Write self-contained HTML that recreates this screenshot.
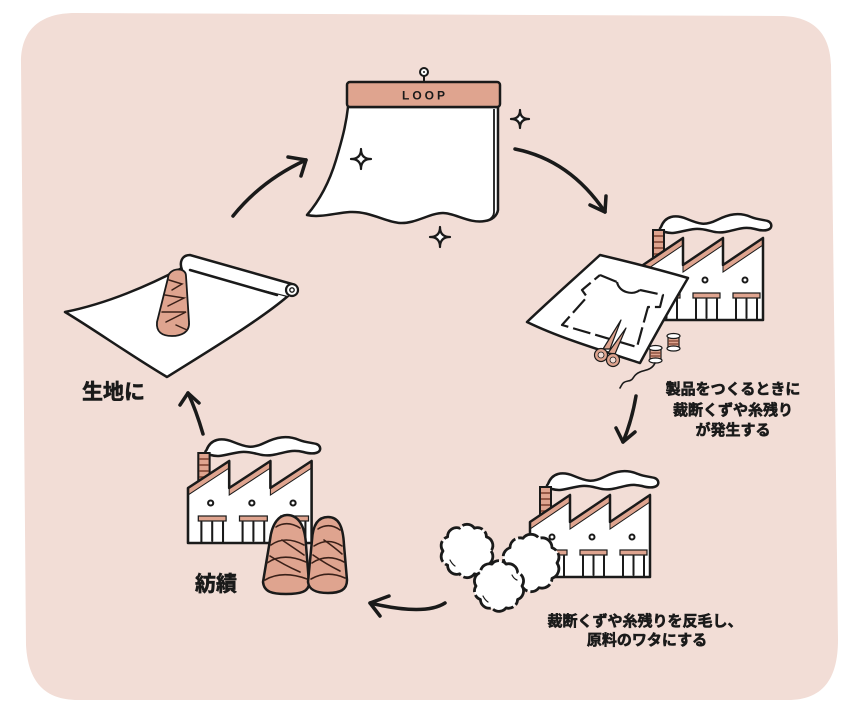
<!DOCTYPE html>
<html>
<head>
<meta charset="utf-8">
<style>
  html,body{margin:0;padding:0;background:#ffffff;}
  body{width:850px;height:711px;overflow:hidden;}
  svg{display:block;}
  .lbl{font-family:"Liberation Sans","Noto Sans CJK JP",sans-serif;font-weight:700;fill:#1a1a1a;stroke:#1a1a1a;stroke-width:0.6;paint-order:stroke;}
</style>
</head>
<body>
<svg width="850" height="711" viewBox="0 0 850 711" xmlns="http://www.w3.org/2000/svg">
  <defs>
    <g id="factory">
      <!-- smoke -->
      <path d="M18,-93 C22,-104 32,-106 44,-101 C56,-96 62,-94 74,-100 C86,-106 96,-108 108,-103 C118,-99 126,-101 128,-96 C130,-90 122,-88 112,-91 C100,-94 94,-90 82,-88 C70,-86 64,-92 52,-91 C40,-90 32,-85 22,-88 C16,-89 16,-91 18,-93 Z" fill="#ffffff" stroke="#1a1a1a" stroke-width="2.5" stroke-linejoin="round"/>
      <!-- chimney -->
      <rect x="10" y="-90" width="11" height="40" fill="#dfa48f" stroke="#1a1a1a" stroke-width="2"/>
      <g stroke="#7a3f2e" stroke-width="1.5">
        <line x1="11" y1="-84" x2="20" y2="-84"/>
        <line x1="11" y1="-78" x2="20" y2="-78"/>
        <line x1="11" y1="-72" x2="20" y2="-72"/>
        <line x1="11" y1="-66" x2="20" y2="-66"/>
      </g>
      <!-- building body -->
      <path d="M0,0 V-55 L40,-82 V-55 L80,-82 V-55 L120,-82 V0 Z" fill="#ffffff"/>
      <!-- roof strips -->
      <g fill="#dfa48f" stroke="#1a1a1a" stroke-width="1">
        <polygon points="0,-55 40,-82 40,-75 0,-48"/>
        <polygon points="40,-55 80,-82 80,-75 40,-48"/>
        <polygon points="80,-55 120,-82 120,-75 80,-48"/>
      </g>
      <path d="M0,0 V-55 L40,-82 V-55 L80,-82 V-55 L120,-82 V0 Z" fill="none" stroke="#1a1a1a" stroke-width="2.5" stroke-linejoin="round"/>
      <!-- windows -->
      <g fill="#ffffff" stroke="#1a1a1a" stroke-width="2">
        <circle cx="22" cy="-40" r="2.5"/>
        <circle cx="62" cy="-40" r="2.5"/>
        <circle cx="102" cy="-40" r="2.5"/>
      </g>
      <!-- doors -->
      <g fill="#dfa48f" stroke="#1a1a1a" stroke-width="1.2">
        <rect x="10" y="-27" width="27" height="5"/>
        <rect x="50" y="-27" width="27" height="5"/>
        <rect x="90" y="-27" width="27" height="5"/>
      </g>
      <g stroke="#1a1a1a" stroke-width="2" stroke-linecap="round">
        <line x1="13" y1="-21" x2="13" y2="0"/><line x1="23.5" y1="-21" x2="23.5" y2="-2"/><line x1="34" y1="-21" x2="34" y2="0"/>
        <line x1="53" y1="-21" x2="53" y2="0"/><line x1="63.5" y1="-21" x2="63.5" y2="-2"/><line x1="74" y1="-21" x2="74" y2="0"/>
        <line x1="93" y1="-21" x2="93" y2="0"/><line x1="103.5" y1="-21" x2="103.5" y2="-2"/><line x1="114" y1="-21" x2="114" y2="0"/>
      </g>
    </g>
  </defs>

  <!-- pink background blob -->
  <path d="M21,62 C21,30 40,13 75,13 L780,16 C815,16 830,35 831,65 L838,640 C838,680 822,700 788,700 L78,700 C45,700 28,682 26,645 Z" fill="#f2ddd6"/>

  <!-- ============ LOOP fabric (top) ============ -->
  <path d="M348,107 L498,107 L498,210 C497,216 492,220 485,221 C470,224 455,213 443,213 C430,213 415,224 400,223 C385,222 370,211 350,212 C335,213 320,218 307,215 C320,200 330,180 336,160 C342,140 346,125 348,107 Z" fill="#ffffff" stroke="#1a1a1a" stroke-width="2.5" stroke-linejoin="round"/>
  <path d="M494,109 L494,212 C494,216 491,219 487,221" fill="none" stroke="#1a1a1a" stroke-width="1.8"/>
  <line x1="424" y1="76" x2="424" y2="83" stroke="#1a1a1a" stroke-width="2"/>
  <circle cx="424" cy="72" r="4" fill="#ffffff" stroke="#1a1a1a" stroke-width="2"/>
  <circle cx="424" cy="72" r="1" fill="#1a1a1a"/>
  <rect x="347" y="82" width="153" height="25" rx="3" fill="#dfa48f" stroke="#1a1a1a" stroke-width="2.5"/>
  <text x="425" y="99.5" text-anchor="middle" font-family="Liberation Sans, sans-serif" font-size="12" font-weight="700" letter-spacing="3" fill="#1a1a1a">LOOP</text>

  <!-- sparkles -->
  <g fill="#ffffff" stroke="#1a1a1a" stroke-width="2.2" stroke-linejoin="round">
    <path d="M361,149 Q361,159 371,159 Q361,159 361,169 Q361,159 351,159 Q361,159 361,149 Z"/>
    <path d="M520,110 Q520,119 529,119 Q520,119 520,128 Q520,119 511,119 Q520,119 520,110 Z"/>
    <path d="M440,227 Q440,237 450,237 Q440,237 440,247 Q440,237 430,237 Q440,237 440,227 Z"/>
  </g>

  <!-- ============ Arrows ============ -->
  <g fill="none" stroke="#1a1a1a" stroke-width="3.5" stroke-linecap="round" stroke-linejoin="round">
    <path d="M233,216 Q262,180 306,160"/>
    <path d="M288,157 L306,160 L301,176"/>
    <path d="M515,149 Q570,160 605,212"/>
    <path d="M590,205 L605,212 L606,196"/>
    <path d="M636,396 Q632,420 623,442"/>
    <path d="M616,428 L623,442 L635,432"/>
    <path d="M445,603 Q425,616 370,603"/>
    <path d="M389,596 L370,603 L380,616"/>
    <path d="M203,434 Q196,410 188,393"/>
    <path d="M180,405 L188,393 L199,403"/>
  </g>

  <!-- ============ Top-right factory + sheet ============ -->
  <use href="#factory" transform="translate(643,320)"/>
  <path d="M600,255 C630,262 660,270 688,278 C675,300 655,335 640,363 C600,350 560,338 527,322 C550,300 575,278 600,255 Z" fill="#ffffff" stroke="#1a1a1a" stroke-width="2.5" stroke-linejoin="round"/>
  <!-- T-shirt pattern -->
  <path d="M600,275 L617,282 M640,290 L663,295 L660,307 L648,307 L637,347 L562,325 L587,297 L582,290 L600,275" fill="none" stroke="#1a1a1a" stroke-width="2.2" stroke-dasharray="18 5" stroke-linejoin="round"/>
  <path d="M617,282 C619,292 632,296 640,290" fill="none" stroke="#1a1a1a" stroke-width="2.2"/>
  <!-- scissors -->
  <g fill="#dfa48f" stroke="#1a1a1a" stroke-width="1.2" stroke-linejoin="round">
    <path d="M603,349 L621,320 L610,349 Z"/>
    <path d="M608,353 L626,328 L615,354 Z"/>
    <circle cx="601" cy="355" r="6.5"/>
    <circle cx="613" cy="360" r="6.5"/>
  </g>
  <circle cx="601" cy="355" r="3" fill="#f2ddd6" stroke="#1a1a1a" stroke-width="0.8"/>
  <circle cx="613" cy="360" r="3" fill="#f2ddd6" stroke="#1a1a1a" stroke-width="0.8"/>
  <!-- spools -->
  <g stroke="#1a1a1a" stroke-width="1.2">
    <rect x="668" y="337" width="11" height="11" fill="#dfa48f"/>
    <line x1="668" y1="341" x2="679" y2="341" stroke="#7a3f2e"/>
    <line x1="668" y1="344" x2="679" y2="344" stroke="#7a3f2e"/>
    <ellipse cx="673.5" cy="336" rx="6.5" ry="2.5" fill="#ffffff"/>
    <ellipse cx="673.5" cy="348.5" rx="6.5" ry="2.5" fill="#ffffff"/>
    <rect x="650" y="349" width="11" height="11" fill="#dfa48f"/>
    <line x1="650" y1="353" x2="661" y2="353" stroke="#7a3f2e"/>
    <line x1="650" y1="356" x2="661" y2="356" stroke="#7a3f2e"/>
    <ellipse cx="655.5" cy="348" rx="6.5" ry="2.5" fill="#ffffff"/>
    <ellipse cx="655.5" cy="360.5" rx="6.5" ry="2.5" fill="#ffffff"/>
  </g>
  <path d="M655,363 C652,370 645,370 640,372 C632,375 635,380 628,381 C622,382 622,385 620,388" fill="none" stroke="#1a1a1a" stroke-width="1.6" stroke-linecap="round"/>

  <!-- ============ Bottom-right factory + cotton ============ -->
  <use href="#factory" transform="translate(530,577)"/>
  <g fill="#ffffff" stroke="#1a1a1a" stroke-width="2.8" stroke-linejoin="round" stroke-dasharray="22 3">
    <path d="M491,551 A9,9 0 0 1 486.4,565.1 A9,9 0 0 1 474.4,573.8 A9,9 0 0 1 459.6,573.8 A9,9 0 0 1 447.6,565.1 A9,9 0 0 1 443,551 A9,9 0 0 1 447.6,536.9 A9,9 0 0 1 459.6,528.2 A9,9 0 0 1 474.4,528.2 A9,9 0 0 1 486.4,536.9 A9,9 0 0 1 491,551 Z"/>
    <path d="M557,563 A10,10 0 0 1 552,578.3 A10,10 0 0 1 539,587.7 A10,10 0 0 1 523,587.7 A10,10 0 0 1 510,578.3 A10,10 0 0 1 505,563 A10,10 0 0 1 510,547.7 A10,10 0 0 1 523,538.3 A10,10 0 0 1 539,538.3 A10,10 0 0 1 552,547.7 A10,10 0 0 1 557,563 Z"/>
    <path d="M522,586 A9,9 0 0 1 517.6,599.5 A9,9 0 0 1 506.1,607.9 A9,9 0 0 1 491.9,607.9 A9,9 0 0 1 480.4,599.5 A9,9 0 0 1 476,586 A9,9 0 0 1 480.4,572.5 A9,9 0 0 1 491.9,564.1 A9,9 0 0 1 506.1,564.1 A9,9 0 0 1 517.6,572.5 A9,9 0 0 1 522,586 Z"/>
  </g>
  <g fill="none" stroke="#1a1a1a" stroke-width="1.2" stroke-linecap="round">
    <path d="M450,560 q2,4 5,6"/><path d="M483,596 q2,4 5,6"/><path d="M512,575 q2,4 5,5"/>
  </g>

  <!-- ============ Bottom-left factory + cones ============ -->
  <use href="#factory" transform="translate(188,543) scale(1.03,1)"/>
  <path d="M270,540 C272,522 280,515 287,515 C298,515 305,525 306,545 L309,583 C309,592 300,594 286,594 C272,594 264,592 263,582 Z" fill="#dfa48f" stroke="#1a1a1a" stroke-width="2.5"/>
  <path d="M312,540 C313,522 320,517 328,517 C338,517 343,525 344,545 L347,580 C347,590 340,593 328,593 C316,593 309,590 308,582 Z" fill="#dfa48f" stroke="#1a1a1a" stroke-width="2.5"/>
  <g fill="none" stroke="#3a2018" stroke-width="1.6" stroke-linecap="round">
    <path d="M276,527 Q287,520 300,528"/>
    <path d="M271,545 Q285,535 304,545"/>
    <path d="M267,563 Q283,552 306,562"/>
    <path d="M265,580 Q282,570 307,579"/>
    <path d="M282,540 Q294,548 304,555"/>
    <path d="M270,556 Q284,565 300,572"/>
    <path d="M318,529 Q329,522 340,530"/>
    <path d="M314,546 Q328,537 342,546"/>
    <path d="M312,563 Q327,553 344,562"/>
    <path d="M311,579 Q327,570 345,578"/>
    <path d="M324,540 Q334,547 342,554"/>
    <path d="M313,555 Q326,564 340,571"/>
  </g>

  <!-- ============ Left fabric roll ============ -->
  <path d="M65,312 C100,305 140,290 182,268 L288,296 C260,320 210,350 167,377 C130,355 95,330 65,312 Z" fill="#ffffff" stroke="#1a1a1a" stroke-width="2.5" stroke-linejoin="round"/>
  <path d="M182,270 C179,262 182,255 190,255 L292,284 L288,296 Z" fill="#ffffff"/>
  <path d="M182,270 C179,262 182,255 190,255 L292,284" fill="none" stroke="#1a1a1a" stroke-width="2.5" stroke-linecap="round"/>
  <path d="M190,270 L277,295" fill="none" stroke="#1a1a1a" stroke-width="2.5" stroke-linecap="round"/>
  <circle cx="292" cy="290" r="6" fill="#ffffff" stroke="#1a1a1a" stroke-width="2.2"/>
  <circle cx="292" cy="290" r="2.2" fill="none" stroke="#1a1a1a" stroke-width="1.4"/>
  <path d="M168,278 C168,268 186,266 186,276 L189,322 C190,333 180,336 172,336 C162,336 156,332 157,322 Z" fill="#dfa48f" stroke="#1a1a1a" stroke-width="1.8"/>
  <g fill="none" stroke="#3a2018" stroke-width="1.5" stroke-linecap="round">
    <path d="M169,280 L182,284 L172,290"/>
    <path d="M165,295 L184,298 L168,306"/>
    <path d="M162,312 L186,312 L166,322"/>
    <path d="M176,325 L187,330"/>
  </g>

  <!-- ============ Labels ============ -->
  <text class="lbl" x="82" y="399" font-size="21">生地に</text>
  <text class="lbl" x="195" y="591" font-size="21">紡績</text>
  <text class="lbl" x="733" y="394" font-size="15" text-anchor="middle">製品をつくるときに</text>
  <text class="lbl" x="733" y="415" font-size="15" text-anchor="middle">裁断くずや糸残り</text>
  <text class="lbl" x="733" y="435" font-size="15" text-anchor="middle">が発生する</text>
  <text class="lbl" x="645" y="626" font-size="15" text-anchor="middle">裁断くずや糸残りを反毛し、</text>
  <text class="lbl" x="647" y="645" font-size="15" text-anchor="middle">原料のワタにする</text>
</svg>
</body>
</html>
